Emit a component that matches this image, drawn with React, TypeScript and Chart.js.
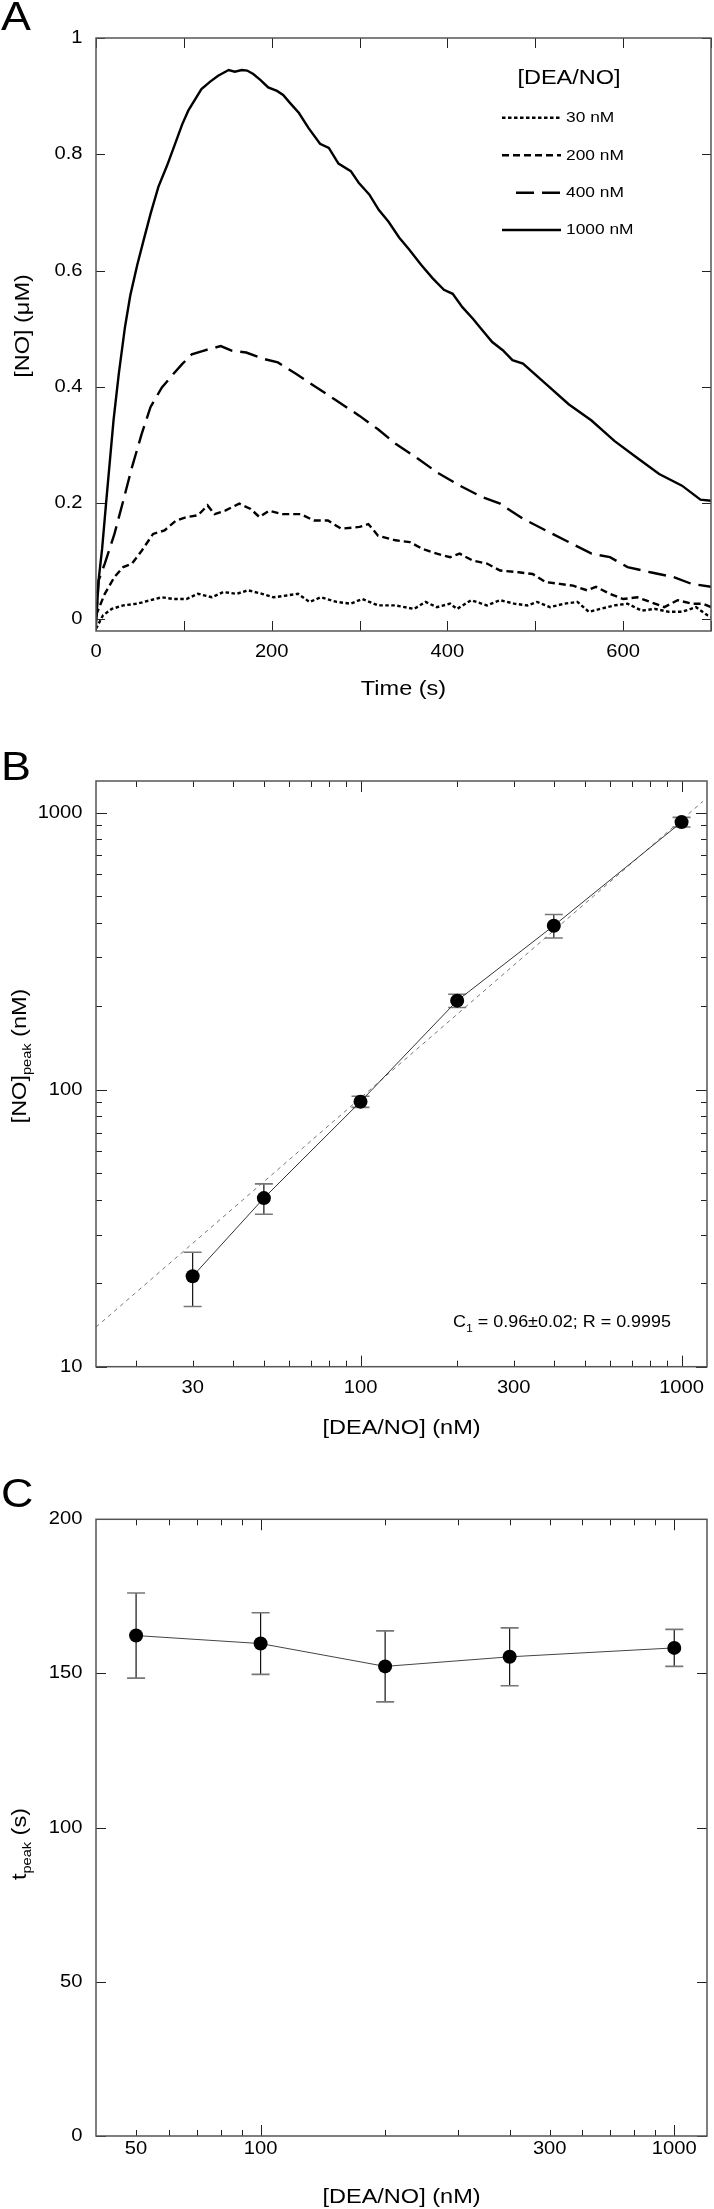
import React, { useEffect, useRef } from "react";
import { Chart, registerables } from "chart.js";
Chart.register(...registerables);

const FONT = "'Liberation Sans', Arial, Helvetica, sans-serif";
const SX = 1.12;
const W = 714;

// ---------- Panel A : NO traces ----------
const T30 = [0,8,18,31,47,62,75,88,103,116,132,145,160,173,189,202,217,230,243,256,274,290,303,321,341,362,375,388,403,411,427,445,460,476,491,502,517,533,548,561,574,590,605,621,636,652,667,683,696,700];
const NO30 = [-0.016,0.007,0.018,0.024,0.027,0.033,0.038,0.035,0.035,0.044,0.038,0.047,0.044,0.050,0.044,0.038,0.041,0.044,0.030,0.038,0.030,0.027,0.035,0.024,0.024,0.018,0.030,0.021,0.027,0.018,0.033,0.024,0.033,0.027,0.024,0.030,0.021,0.027,0.030,0.013,0.018,0.024,0.027,0.015,0.018,0.013,0.013,0.021,0.007,0.004];
const T200 = [0,10,21,31,41,52,65,78,91,103,116,127,135,147,163,176,186,197,212,233,248,264,279,300,310,321,341,357,372,388,403,414,429,445,460,481,497,512,528,543,559,569,585,600,616,631,647,662,678,691,700];
const NO200 = [0.007,0.044,0.073,0.090,0.096,0.118,0.147,0.153,0.170,0.176,0.179,0.196,0.181,0.187,0.199,0.190,0.176,0.187,0.181,0.181,0.170,0.170,0.156,0.159,0.164,0.144,0.136,0.133,0.121,0.113,0.107,0.113,0.101,0.096,0.084,0.081,0.078,0.064,0.061,0.058,0.050,0.056,0.044,0.035,0.038,0.030,0.021,0.033,0.027,0.027,0.021];
const T400 = [0,3,10,21,31,41,52,62,75,88,98,109,122,129,142,155,171,191,207,228,248,274,300,321,341,367,388,414,440,460,486,512,538,564,585,605,631,657,678,700];
const NO400 = [0.0,0.067,0.096,0.147,0.204,0.262,0.319,0.365,0.399,0.422,0.439,0.456,0.462,0.465,0.470,0.462,0.459,0.448,0.442,0.422,0.402,0.376,0.350,0.327,0.302,0.276,0.253,0.230,0.210,0.199,0.173,0.153,0.133,0.113,0.107,0.090,0.081,0.073,0.061,0.056];
const T1000 = [0,3,7,12,20,26,33,39,47,54,62,71,81,90,98,105,113,120,130,139,151,158,166,172,179,187,196,206,213,221,231,242,255,265,276,290,299,311,322,333,345,356,370,383,396,406,417,429,440,451,463,474,486,512,538,564,590,615,641,667,688,700];
const NO1000 = [-0.01,0.068,0.122,0.209,0.343,0.423,0.503,0.557,0.610,0.651,0.697,0.744,0.781,0.818,0.851,0.875,0.895,0.912,0.925,0.935,0.945,0.942,0.945,0.944,0.938,0.928,0.915,0.909,0.902,0.888,0.871,0.845,0.818,0.811,0.784,0.771,0.751,0.731,0.704,0.684,0.657,0.637,0.610,0.587,0.567,0.560,0.537,0.517,0.497,0.477,0.463,0.446,0.440,0.405,0.370,0.342,0.307,0.279,0.250,0.230,0.206,0.204];
const A_LABELS = ["30 nM", "200 nM", "400 nM", "1000 nM"];
const A_X_TICKS = [0, 100, 200, 300, 400, 500, 600, 700];
const A_X_LABELS = [0, 200, 400, 600];
const A_Y_TICKS = [0, 0.2, 0.4, 0.6, 0.8, 1];
const A_Y_LABELS = ["0", "0.2", "0.4", "0.6", "0.8", "1"];

// ---------- Panel B : peak NO vs DEA/NO ----------
const B_DEA = [30, 50, 100, 200, 400, 1000];
const B_PEAK = [21.2, 40.6, 90.5, 209.5, 390.6, 924];
const B_ERR = [4.7, 5.1, 4.2, 11.5, 38, 37];
const B_FIT_X = [15, 1167];
const B_FIT_Y = [13.9, 1099];
const B_X_MAJOR = [100, 1000];
const B_X_MINOR = [20, 30, 40, 50, 60, 70, 80, 90, 200, 300, 400, 500, 600, 700, 800, 900];
const B_X_LABELS = [30, 100, 300, 1000];
const B_Y_MAJOR = [10, 100, 1000];
const B_Y_MINOR = [20, 30, 40, 50, 60, 70, 80, 90, 200, 300, 400, 500, 600, 700, 800, 900];
const B_Y_LABELS = [10, 100, 1000];

// ---------- Panel C : time to peak ----------
const C_DEA = [50, 100, 200, 400, 1000];
const C_TPEAK = [162.3, 159.7, 152.3, 155.4, 158.3];
const C_ERR = [13.8, 10, 11.5, 9.4, 6];
const C_X_MAJOR = [100, 1000];
const C_X_MINOR = [50, 60, 70, 80, 90, 200, 300, 400, 500, 600, 700, 800, 900];
const C_X_LABEL_AT = [50, 100, 500, 1000];
const C_X_LABEL_TEXT = ["50", "100", "300", "1000"];
const C_Y_TICKS = [0, 50, 100, 150, 200];

type Part = { s: string; size: number; dy?: number };

function rich(ctx: CanvasRenderingContext2D, parts: Part[], x: number, y: number, rot = 0, align = "center") {
  ctx.save();
  ctx.translate(x, y);
  if (rot) ctx.rotate(rot);
  ctx.scale(SX, 1);
  ctx.fillStyle = "#000";
  ctx.textBaseline = "alphabetic";
  ctx.textAlign = "left";
  let w = 0;
  for (const p of parts) {
    ctx.font = `${p.size}px ${FONT}`;
    w += ctx.measureText(p.s).width;
  }
  let cx = align === "center" ? -w / 2 : align === "right" ? -w : 0;
  for (const p of parts) {
    ctx.font = `${p.size}px ${FONT}`;
    ctx.fillText(p.s, cx, p.dy || 0);
    cx += ctx.measureText(p.s).width;
  }
  ctx.restore();
}

function txt(ctx: CanvasRenderingContext2D, s: string, x: number, y: number, size: number, align: CanvasTextAlign, base: CanvasTextBaseline) {
  ctx.save();
  ctx.translate(x, y);
  ctx.scale(SX, 1);
  ctx.font = `${size}px ${FONT}`;
  ctx.fillStyle = "#000";
  ctx.textAlign = align;
  ctx.textBaseline = base;
  ctx.fillText(s, 0, 0);
  ctx.restore();
}

interface Spec {
  xMajor: number[]; xMinor: number[]; xMajLen: number; xMinLen: number;
  yMajor: number[]; yMinor: number[]; yMajLen: number; yMinLen: number;
  xLab: { v: number; t: string }[]; yLab: { v: number; t: string }[];
  xLabDy: number; tickFont: number;
  letter: string; letterY: number;
  xTitle: Part[]; xTitleY: number;
  yTitle: Part[]; yTitleX: number; yTitleY: number;
  extra?: (chart: any) => void;
  before?: (chart: any) => void;
}

function makePlugin(spec: Spec) {
  return {
    id: "frame",
    beforeDatasetsDraw(chart: any) {
      if (spec.before) spec.before(chart);
    },
    afterDraw(chart: any) {
      const { ctx, chartArea: a, scales } = chart;
      const xs = scales.x;
      const ys = scales.y;
      ctx.save();
      ctx.strokeStyle = "#222";
      ctx.lineWidth = 1;
      const seg = (x1: number, y1: number, x2: number, y2: number) => {
        ctx.beginPath(); ctx.moveTo(x1, y1); ctx.lineTo(x2, y2); ctx.stroke();
      };
      const tx = (v: number, len: number) => {
        const p = Math.round(xs.getPixelForValue(v)) + 0.5;
        seg(p, a.bottom, p, a.bottom - len);
        seg(p, a.top, p, a.top + len);
      };
      const ty = (v: number, len: number) => {
        const p = Math.round(ys.getPixelForValue(v)) + 0.5;
        seg(a.left, p, a.left + len, p);
        seg(a.right, p, a.right - len, p);
      };
      spec.xMinor.forEach((v) => tx(v, spec.xMinLen));
      spec.xMajor.forEach((v) => tx(v, spec.xMajLen));
      spec.yMinor.forEach((v) => ty(v, spec.yMinLen));
      spec.yMajor.forEach((v) => ty(v, spec.yMajLen));
      ctx.strokeStyle = "#555";
      ctx.lineWidth = 1.5;
      ctx.strokeRect(a.left, a.top, a.right - a.left, a.bottom - a.top);
      ctx.restore();
      spec.xLab.forEach((l) => txt(ctx, l.t, xs.getPixelForValue(l.v), a.bottom + spec.xLabDy, spec.tickFont, "center", "middle"));
      spec.yLab.forEach((l) => txt(ctx, l.t, a.left - 13.5, ys.getPixelForValue(l.v), spec.tickFont, "right", "middle"));
      txt(ctx, spec.letter, 1, spec.letterY, 40, "left", "alphabetic");
      rich(ctx, spec.xTitle, (a.left + a.right) / 2, spec.xTitleY);
      rich(ctx, spec.yTitle, spec.yTitleX, spec.yTitleY, -Math.PI / 2);
      if (spec.extra) spec.extra(chart);
    },
  };
}

function errorBars(xv: number[], yv: number[], ev: number[]) {
  return (chart: any) => {
    const { ctx, scales } = chart;
    ctx.save();
    xv.forEach((x, i) => {
      const px = scales.x.getPixelForValue(x);
      const top = scales.y.getPixelForValue(yv[i] + ev[i]);
      const bot = scales.y.getPixelForValue(yv[i] - ev[i]);
      ctx.strokeStyle = "#111";
      ctx.lineWidth = 1.2;
      ctx.beginPath(); ctx.moveTo(px, top); ctx.lineTo(px, bot); ctx.stroke();
      ctx.strokeStyle = "#777";
      ctx.lineWidth = 1.6;
      ctx.beginPath();
      ctx.moveTo(px - 9, top); ctx.lineTo(px + 9, top);
      ctx.moveTo(px - 9, bot); ctx.lineTo(px + 9, bot);
      ctx.stroke();
    });
    ctx.restore();
  };
}

const DASHES = [[3.5, 2.5], [7, 4], [18, 8], []];

function configA(): any {
  const series = [[T30, NO30], [T200, NO200], [T400, NO400], [T1000, NO1000]];
  return {
    type: "scatter",
    data: {
      datasets: series.map(([t, v], i) => ({
        label: A_LABELS[i],
        data: t.map((tt, j) => ({ x: tt, y: v[j] })),
        showLine: true,
        borderColor: "#000",
        backgroundColor: "#000",
        borderWidth: 2.4,
        borderDash: DASHES[i],
        pointRadius: 0,
        tension: 0,
      })),
    },
    options: {
      animation: false, responsive: false,
      layout: { padding: { left: 96, right: 3, top: 38, bottom: 89 } },
      scales: {
        x: { type: "linear", min: 0, max: 700, display: false },
        y: { type: "linear", min: -0.02, max: 1, display: false },
      },
      plugins: { legend: { display: false }, tooltip: { enabled: false } },
    },
    plugins: [makePlugin({
      xMajor: A_X_TICKS, xMinor: [], xMajLen: 10, xMinLen: 0,
      yMajor: A_Y_TICKS, yMinor: [], yMajLen: 9, yMinLen: 0,
      xLab: A_X_LABELS.map((v) => ({ v, t: String(v) })),
      yLab: A_Y_TICKS.map((v, i) => ({ v, t: A_Y_LABELS[i] })),
      xLabDy: 21, tickFont: 18,
      letter: "A", letterY: 30,
      xTitle: [{ s: "Time (s)", size: 21 }], xTitleY: 695,
      yTitle: [{ s: "[NO] (\u03bcM)", size: 21 }], yTitleX: 29, yTitleY: 326,
      extra: (chart: any) => {
        const ctx = chart.ctx;
        txt(ctx, "[DEA/NO]", 569, 78, 21, "center", "middle");
        const rows = [117.7, 155.3, 192.7, 230];
        rows.forEach((y, i) => {
          ctx.save();
          ctx.strokeStyle = "#000";
          ctx.lineWidth = 2.4;
          ctx.setLineDash(DASHES[i]);
          ctx.beginPath();
          ctx.moveTo(i === 2 ? 516 : 502, y);
          ctx.lineTo(561, y);
          ctx.stroke();
          ctx.restore();
          txt(ctx, A_LABELS[i], 566, y, 15.5, "left", "middle");
        });
      },
    })],
  };
}

function configB(): any {
  return {
    type: "scatter",
    data: {
      datasets: [
        {
          data: B_DEA.map((x, i) => ({ x, y: B_PEAK[i] })),
          showLine: true, borderColor: "#333", borderWidth: 1,
          pointRadius: 7, pointBackgroundColor: "#000", pointBorderColor: "#000", pointBorderWidth: 0,
          clip: false,
        },
        {
          data: B_FIT_X.map((x, i) => ({ x, y: B_FIT_Y[i] })),
          showLine: true, borderColor: "#777", borderWidth: 1, borderDash: [4, 4], pointRadius: 0,
        },
      ],
    },
    options: {
      animation: false, responsive: false,
      layout: { padding: { left: 96, right: 3, top: 61, bottom: 93.3 } },
      scales: {
        x: { type: "logarithmic", min: 15, max: 1200, display: false },
        y: { type: "logarithmic", min: 10, max: 1300, display: false },
      },
      plugins: { legend: { display: false }, tooltip: { enabled: false } },
    },
    plugins: [makePlugin({
      xMajor: B_X_MAJOR, xMinor: B_X_MINOR, xMajLen: 11, xMinLen: 6,
      yMajor: B_Y_MAJOR, yMinor: B_Y_MINOR, yMajLen: 11, yMinLen: 6,
      xLab: B_X_LABELS.map((v) => ({ v, t: String(v) })),
      yLab: B_Y_LABELS.map((v) => ({ v, t: String(v) })),
      xLabDy: 21.3, tickFont: 18,
      letter: "B", letterY: 60,
      xTitle: [{ s: "[DEA/NO] (nM)", size: 21 }], xTitleY: 714,
      yTitle: [{ s: "[NO]", size: 21 }, { s: "peak", size: 13, dy: 5 }, { s: " (nM)", size: 21 }],
      yTitleX: 26, yTitleY: 336,
      before: errorBars(B_DEA, B_PEAK, B_ERR),
      extra: (chart: any) => {
        rich(chart.ctx, [{ s: "C", size: 16 }, { s: "1", size: 11, dy: 5 }, { s: " = 0.96\u00b10.02; R = 0.9995", size: 16 }], 453, 606.7, 0, "left");
      },
    })],
  };
}

function configC(): any {
  return {
    type: "scatter",
    data: {
      datasets: [
        {
          data: C_DEA.map((x, i) => ({ x, y: C_TPEAK[i] })),
          showLine: true, borderColor: "#444", borderWidth: 1,
          pointRadius: 7, pointBackgroundColor: "#000", pointBorderColor: "#000", pointBorderWidth: 0,
          clip: false,
        },
      ],
    },
    options: {
      animation: false, responsive: false,
      layout: { padding: { left: 96, right: 3, top: 59.3, bottom: 73 } },
      scales: {
        x: { type: "logarithmic", min: 40, max: 1200, display: false },
        y: { type: "linear", min: 0, max: 200, display: false },
      },
      plugins: { legend: { display: false }, tooltip: { enabled: false } },
    },
    plugins: [makePlugin({
      xMajor: C_X_MAJOR, xMinor: C_X_MINOR, xMajLen: 11, xMinLen: 6,
      yMajor: C_Y_TICKS, yMinor: [], yMajLen: 10, yMinLen: 0,
      xLab: C_X_LABEL_AT.map((v, i) => ({ v, t: C_X_LABEL_TEXT[i] })),
      yLab: C_Y_TICKS.map((v) => ({ v, t: String(v) })),
      xLabDy: 13, tickFont: 18,
      letter: "C", letterY: 46.5,
      xTitle: [{ s: "[DEA/NO] (nM)", size: 21 }], xTitleY: 743,
      yTitle: [{ s: "t", size: 21 }, { s: "peak", size: 13, dy: 5 }, { s: " (s)", size: 21 }],
      yTitleX: 26, yTitleY: 384,
      before: errorBars(C_DEA, C_TPEAK, C_ERR),
    })],
  };
}

function Panel({ top, height, make }: { top: number; height: number; make: () => any }) {
  const ref = useRef<HTMLCanvasElement>(null);
  useEffect(() => {
    if (!ref.current) return;
    const chart = new Chart(ref.current, make());
    return () => chart.destroy();
  }, []);
  return (
    <canvas
      ref={ref}
      width={W}
      height={height}
      style={{ position: "absolute", left: 0, top, width: W, height }}
    />
  );
}

export default function App() {
  return (
    <div style={{ position: "absolute", left: 0, top: 0, width: W, height: 2209, background: "#fff" }}>
      <Panel top={0} height={720} make={configA} />
      <Panel top={720} height={740} make={configB} />
      <Panel top={1460} height={749} make={configC} />
    </div>
  );
}
